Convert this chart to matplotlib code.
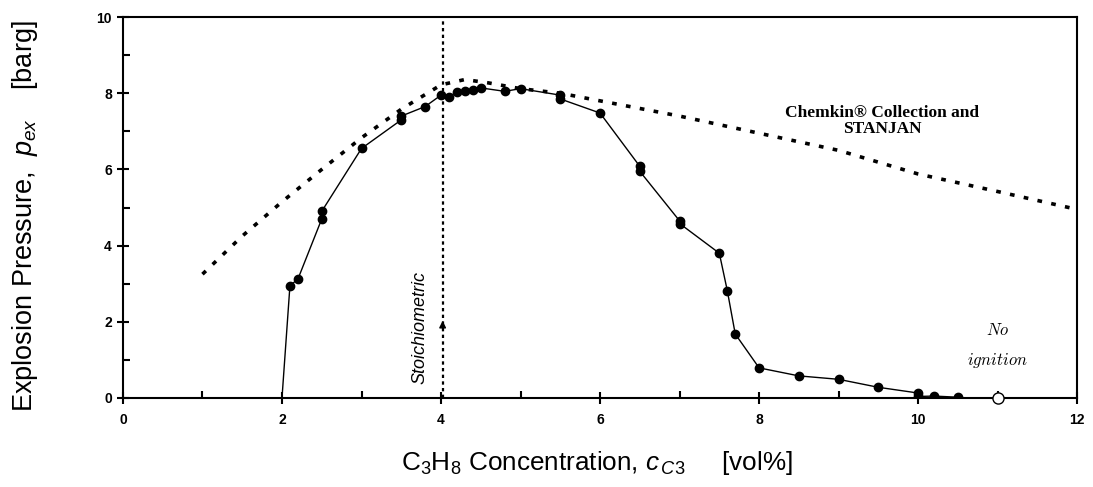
import numpy as np
import matplotlib
matplotlib.use('Agg')
import matplotlib.pyplot as plt

plt.rcParams['font.family'] = ['Liberation Sans', 'DejaVu Sans']
plt.rcParams['mathtext.fontset'] = 'custom'
plt.rcParams['mathtext.rm'] = 'Liberation Sans'
plt.rcParams['mathtext.it'] = 'Liberation Sans:italic'

# Experimental data (conc. vol%, pressure barg)
exp_x = [2.0, 2.1, 2.2, 2.5, 2.5, 3.0, 3.5, 3.5, 3.8, 4.0, 4.1, 4.2, 4.3, 4.4,
         4.5, 4.8, 5.0, 5.5, 5.5, 6.0, 6.5, 6.5, 7.0, 7.0, 7.5, 7.6, 7.7, 8.0,
         8.5, 9.0, 9.5, 10.0, 10.0, 10.2, 10.5]
exp_y = [0.0, 2.95, 3.12, 4.7, 4.9, 6.55, 7.3, 7.4, 7.65, 7.95, 7.9, 8.04, 8.05, 8.08,
         8.14, 8.05, 8.12, 7.95, 7.85, 7.48, 6.08, 5.95, 4.65, 4.58, 3.8, 2.82, 1.68, 0.79,
         0.58, 0.49, 0.28, 0.13, 0.04, 0.05, 0.02]
no_ign_x = [11.0]
no_ign_y = [0.0]

# Chemkin / STANJAN calculation
calc_x = [1.0, 1.5, 2.0, 2.5, 3.0, 3.5, 4.0, 4.3, 4.6, 5.0, 5.5, 6.0, 7.0, 8.0,
          9.0, 10.0, 11.0, 12.0]
calc_y = [3.25, 4.25, 5.15, 6.0, 6.83, 7.58, 8.22, 8.36, 8.27, 8.12, 8.0, 7.8, 7.4, 6.95,
          6.5, 5.88, 5.42, 4.95]

stoich = 4.02

fig = plt.figure(figsize=(10.93, 4.87), dpi=100)
ax = fig.add_axes([0.1125, 0.1828, 0.873, 0.7822])

ax.plot(calc_x, calc_y, color='black', lw=2.6, linestyle=(0, (1.3, 2.6)))
ax.plot(exp_x[1:], exp_y[1:], color='black', lw=1, marker='o', ms=6, zorder=3)
ax.plot(exp_x[:2], exp_y[:2], color='black', lw=1, zorder=3)
ax.plot(no_ign_x, no_ign_y, 'o', mfc='white', mec='black', ms=8, mew=1, zorder=4, clip_on=False)

ax.plot([stoich, stoich], [0, 10], color='black', lw=1.6, linestyle=(0, (1.5, 1.5)))
ax.annotate('', xy=(stoich, 2.1), xytext=(stoich, 1.7),
            arrowprops=dict(arrowstyle='-|>', color='black', lw=1, mutation_scale=10))
ax.text(3.74, 1.86, 'Stoichiometric', rotation=90, style='italic', fontsize=13,
        ha='center', va='center')

ax.text(9.55, 7.26, 'Chemkin® Collection and\nSTANJAN', family='Liberation Serif',
        fontweight='bold', fontsize=12.5, ha='center', va='center', linespacing=1.0)
ax.text(11.0, 1.65, '$No$', fontsize=12, ha='center', va='baseline', math_fontfamily='cm')
ax.text(11.0, 0.87, '$ignition$', fontsize=12, ha='center', va='baseline', math_fontfamily='cm')

ax.set_xlim(0, 12)
ax.set_ylim(0, 10)
ax.set_xticks(np.arange(0, 13, 2))
ax.set_yticks(np.arange(0, 11, 2))
ax.set_xticks(np.arange(1, 12, 2), minor=True)
ax.set_yticks(np.arange(1, 10, 2), minor=True)
ax.tick_params(which='major', direction='inout', length=9, width=1.5, labelsize=10)
ax.tick_params(which='minor', direction='in', length=5, width=1.5)
for lab in ax.get_xticklabels() + ax.get_yticklabels():
    lab.set_fontweight('bold')
ax.tick_params(axis='x', pad=6)

for s in ax.spines.values():
    s.set_linewidth(1.5)

xlab = fig.text(0.546, 0.049, 'C$_3$H$_8$ Concentration, $c_{\\,C3}$     [vol%]',
                fontsize=17, ha='center', va='center')
ylab = fig.text(0.023, 0.556, 'Explosion Pressure,  $p_{ex}$    [barg]', fontsize=19,
                rotation=90, ha='center', va='center')

# scale axis labels to the span they take in the original figure (pixels)
fig.canvas.draw()
r = fig.canvas.get_renderer()
bb = xlab.get_window_extent(r)
xlab.set_fontsize(17 * 392.0 / bb.width)
bb = ylab.get_window_extent(r)
ylab.set_fontsize(19 * 392.0 / bb.height)

fig.savefig('out.png', dpi=100)
